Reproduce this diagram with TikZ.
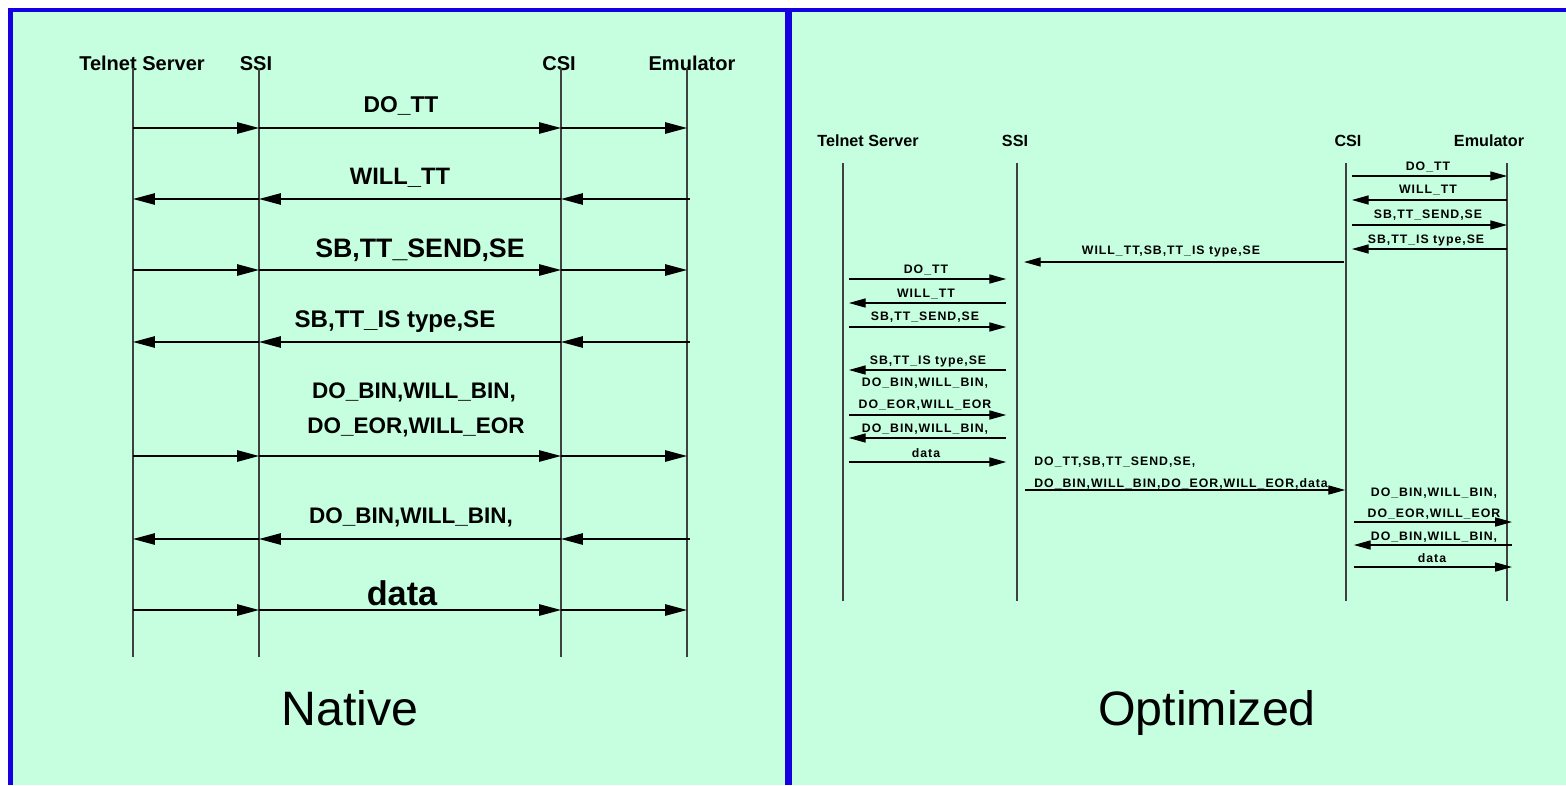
\documentclass[tikz,border=0pt]{standalone}
\usepackage{fontspec}
\setmainfont{Liberation Sans}
\usetikzlibrary{arrows.meta}

\definecolor{panelgreen}{RGB}{198,255,224}
\definecolor{frameblue}{RGB}{20,0,224}

\tikzset{
  lifeline/.style={draw=black!75, line width=0.8pt},
  msg/.style={line width=0.8pt, -{Triangle[length=12.5pt,width=6.5pt]}},
  smallmsg/.style={line width=0.6pt, -{Triangle[length=9.5pt,width=5.2pt]}},
  actor/.style={font=\bfseries\fontsize{11.4}{13}\selectfont, inner sep=0pt, text height=8.2pt, text depth=0pt},
  smallactor/.style={font=\bfseries\fontsize{9.2}{11}\selectfont, inner sep=0pt, text height=6.6pt, text depth=0pt},
  lbl/.style={inner sep=0pt, text depth=0pt},
  smalllbl/.style={font=\bfseries\fontsize{7}{8}\selectfont\addfontfeature{LetterSpace=8}, inner sep=0pt, text height=5pt, text depth=0pt},
  caption/.style={font=\fontsize{27.5}{30}\selectfont, inner sep=0pt}
}

\begin{document}
\begin{tikzpicture}[x=0.02cm, y=-0.02cm]
    \useasboundingbox (0,0) rectangle (1566,785);

    % Background and blue frame
    \fill[panelgreen] (8,8) rectangle (1566,785);
    \draw[frameblue, line width=2.8pt] (10.5,785) -- (10.5,10) -- (1566,10);
    \draw[frameblue, line width=4pt] (788.5,10) -- (788.5,785);

    % ---------------- Native ----------------
    \node[actor] (hTS)  at (142,63) {Telnet Server};
    \node[actor] (hSSI) at (256,63) {SSI};
    \node[actor] (hCSI) at (559,63) {CSI};
    \node[actor] (hEM)  at (692,63) {Emulator};

    \foreach \n/\x in {lTS/133, lSSI/259, lCSI/561, lEM/687} {
        \coordinate (\n) at (\x,68);
        \coordinate (\n b) at (\x,657);
        \draw[lifeline] (\n) -- (\n b);
    }

    % messages, each one split at every lifeline
    \foreach \y/\dir in {128/r, 199/l, 270/r, 342/l, 456/r, 539/l, 610/r} {
        \coordinate (row) at (0,\y);
        \if\dir r
            \draw[msg] (lTS|-row) -- (lSSI|-row);
            \draw[msg] (lSSI|-row) -- (lCSI|-row);
            \draw[msg] (lCSI|-row) -- (lEM|-row);
        \else
            \draw[msg] ([xshift=1.5pt]lEM|-row) -- (lCSI|-row);
            \draw[msg] (lCSI|-row) -- (lSSI|-row);
            \draw[msg] (lSSI|-row) -- (lTS|-row);
        \fi
    }

    \foreach \x/\y/\s/\t [count=\i] in {401/104/13/{DO\_TT}, 400/176/13.5/{WILL\_TT},
            420/248/15.2/{SB,TT\_SEND,SE}, 395/319/13.7/{SB,TT\_IS type,SE},
            414/390/12.8/{DO\_BIN,WILL\_BIN,}, 416/425/12.8/{DO\_EOR,WILL\_EOR},
            411/515/12.8/{DO\_BIN,WILL\_BIN,}, 402/593/19.5/{data}} {
        \pgfmathsetmacro{\capht}{0.72*\s}
        \node[lbl, font=\bfseries\fontsize{\s}{\s}\selectfont, text height=\capht pt] (nl\i) at (\x,\y) {\t};
    }

    \node[caption] (native) at (350,708) {Native};

    % ---------------- Optimized ----------------
    \node[smallactor] (oTS)  at (868,141) {Telnet Server};
    \node[smallactor] (oSSI) at (1015,141) {SSI};
    \node[smallactor] (oCSI) at (1348,141) {CSI};
    \node[smallactor] (oEM)  at (1489,141) {Emulator};

    \foreach \n/\x in {rTS/843, rSSI/1017, rCSI/1346, rEM/1507} {
        \coordinate (\n) at (\x,163);
        \coordinate (\n b) at (\x,601);
        \draw[lifeline, line width=0.6pt] (\n) -- (\n b);
    }

    \foreach \y/\a/\b/\sa/\sb in {176/rCSI/rEM/3.4pt/0pt, 200/rEM/rCSI/0pt/3.4pt,
            225/rCSI/rEM/3.4pt/0pt, 249/rEM/rCSI/0pt/3.4pt,
            262/rCSI/rSSI/1.1pt/4pt,
            279/rTS/rSSI/3.4pt/6.2pt, 303/rSSI/rTS/6.2pt/3.4pt,
            327/rTS/rSSI/3.4pt/6.2pt, 370/rSSI/rTS/6.2pt/3.4pt,
            415/rTS/rSSI/3.4pt/6.2pt, 438/rSSI/rTS/6.2pt/3.4pt,
            462/rTS/rSSI/3.4pt/6.2pt,
            490/rSSI/rCSI/4.5pt/0.5pt,
            522/rCSI/rEM/4.5pt/-2.8pt, 545/rEM/rCSI/-2.8pt/4.5pt,
            567/rCSI/rEM/4.5pt/-2.8pt} {
        \coordinate (row) at (0,\y);
        \draw[smallmsg, shorten <=\sa, shorten >=\sb] (\a|-row) -- (\b|-row);
    }

    \foreach \x/\y/\t [count=\i] in {1428/166/{DO\_TT}, 1428/189/{WILL\_TT},
            1428/214/{SB,TT\_SEND,SE}, 1426/239/{SB,TT\_IS type,SE},
            1171/250/{WILL\_TT,SB,TT\_IS type,SE},
            926/269/{DO\_TT}, 926/293/{WILL\_TT}, 925/316/{SB,TT\_SEND,SE},
            928/360/{SB,TT\_IS type,SE}, 925/382/{DO\_BIN,WILL\_BIN,},
            925/404/{DO\_EOR,WILL\_EOR}, 925/428/{DO\_BIN,WILL\_BIN,},
            926/453/{data},
            1434/492/{DO\_BIN,WILL\_BIN,}, 1434/513/{DO\_EOR,WILL\_EOR},
            1434/536/{DO\_BIN,WILL\_BIN,}, 1432/558/{data}} {
        \node[smalllbl] (nr\i) at (\x,\y) {\t};
    }
    \node[smalllbl, anchor=west] (nrA) at (1034,461) {DO\_TT,SB,TT\_SEND,SE,};
    \node[smalllbl, anchor=west] (nrB) at (1034,483) {DO\_BIN,WILL\_BIN,DO\_EOR,WILL\_EOR,data};

    \node[caption] (optimized) at (1207,713) {Optimized};
\end{tikzpicture}
\end{document}
